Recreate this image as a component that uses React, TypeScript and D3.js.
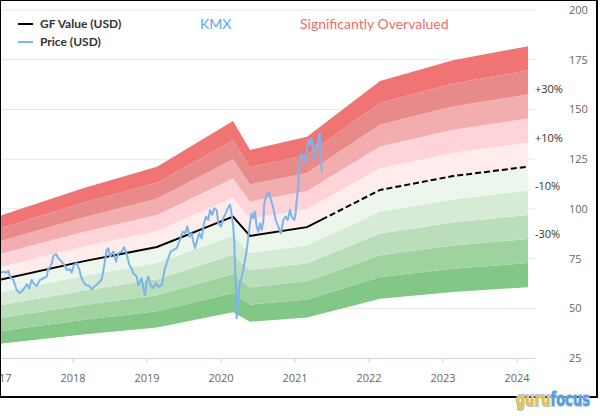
import React from "react";
import * as d3 from "d3";

const GF_DATES = [2016.98, 2018.135, 2019.135, 2020.162, 2020.392, 2021.162, 2022.149, 2023.135, 2024.149];
const GF_VALUES = [64.1, 73.6, 80.8, 96.1, 86.4, 90.8, 109.5, 116.5, 121.2];

const PRICE_DATES = [
  2017.0, 2017.058, 2017.104, 2017.126, 2017.149, 2017.193, 2017.239, 2017.274, 2017.307, 2017.351,
  2017.374, 2017.409, 2017.442, 2017.464, 2017.509, 2017.554, 2017.599, 2017.645, 2017.666, 2017.689,
  2017.712, 2017.734, 2017.77, 2017.801, 2017.847, 2017.892, 2017.915, 2017.959, 2017.982, 2018.014,
  2018.05, 2018.085, 2018.108, 2018.139, 2018.176, 2018.22, 2018.253, 2018.297, 2018.342, 2018.388,
  2018.419, 2018.455, 2018.477, 2018.5, 2018.545, 2018.581, 2018.612, 2018.658, 2018.689, 2018.716,
  2018.761, 2018.793, 2018.815, 2018.861, 2018.882, 2018.928, 2018.95, 2018.973, 2018.996, 2019.018,
  2019.05, 2019.085, 2019.122, 2019.153, 2019.199, 2019.22, 2019.243, 2019.288, 2019.32, 2019.355,
  2019.401, 2019.446, 2019.482, 2019.514, 2019.545, 2019.572, 2019.604, 2019.626, 2019.649, 2019.672,
  2019.707, 2019.739, 2019.77, 2019.797, 2019.828, 2019.851, 2019.882, 2019.909, 2019.942, 2019.964,
  2020.0, 2020.031, 2020.064, 2020.091, 2020.122, 2020.145, 2020.166, 2020.18, 2020.189, 2020.203,
  2020.212, 2020.226, 2020.247, 2020.28, 2020.301, 2020.324, 2020.347, 2020.369, 2020.392, 2020.415,
  2020.437, 2020.459, 2020.482, 2020.504, 2020.527, 2020.55, 2020.572, 2020.585, 2020.618, 2020.649,
  2020.676, 2020.707, 2020.739, 2020.774, 2020.811, 2020.842, 2020.874, 2020.901, 2020.932, 2020.955,
  2020.991, 2021.009, 2021.023, 2021.045, 2021.058, 2021.081, 2021.112, 2021.135, 2021.158, 2021.18,
  2021.203, 2021.226, 2021.247, 2021.27, 2021.284, 2021.307, 2021.324, 2021.338, 2021.351, 2021.361,
];
const PRICE_VALUES = [
  67.6, 68.4, 67.9, 68.9, 65.9, 64.3, 59.2, 57.6, 58.4, 60.6,
  62.2, 60.1, 64.3, 62.6, 61.2, 64.3, 65.1, 65.9, 70.1, 70.6,
  72.6, 76.3, 77.3, 75.2, 73.5, 71.3, 69.3, 69.6, 67.9, 71.8,
  72.6, 69.6, 65.9, 63.4, 61.7, 61.2, 59.6, 61.2, 62.6, 64.6,
  70.9, 79.3, 80.2, 76.0, 78.5, 73.5, 77.7, 78.5, 80.7, 78.5,
  71.8, 70.1, 67.6, 65.9, 61.7, 65.1, 60.1, 56.7, 63.4, 65.9,
  61.7, 60.1, 62.6, 60.9, 61.7, 65.9, 70.1, 75.2, 78.5, 79.3,
  80.2, 84.4, 88.5, 87.7, 91.1, 86.0, 87.7, 83.5, 80.2, 83.5,
  87.7, 85.2, 92.8, 96.1, 94.4, 99.4, 96.9, 100.3, 99.4, 92.8,
  91.1, 95.3, 97.8, 100.3, 102.0, 96.9, 91.1, 82.7, 72.6, 59.2,
  45.0, 52.5, 60.9, 65.9, 69.3, 74.3, 79.3, 86.0, 92.8, 97.8,
  95.3, 98.6, 91.1, 88.5, 92.8, 89.4, 93.6, 102.8, 107.0, 108.6,
  104.5, 100.3, 94.4, 91.1, 87.7, 94.4, 96.1, 94.4, 99.4, 96.1,
  94.4, 97.8, 104.5, 111.2, 122.9, 128.0, 126.2, 122.9, 128.8, 134.6,
  132.1, 135.5, 129.6, 124.6, 132.1, 131.3, 137.2, 138.0, 128.0, 118.7,
];

const Y_TICKS = [25, 50, 75, 100, 125, 150, 175, 200];
const X_TICKS = [2017, 2018, 2019, 2020, 2021, 2022, 2023, 2024];
const BAND_MULTS = [0.5, 0.6, 0.7, 0.8, 0.9, 1.0, 1.1, 1.2, 1.3, 1.4, 1.5];
const BAND_COLORS = [
  "#82c785", "#9ed29e", "#badeba", "#d6ebd6", "#edf6ed",
  "#ffeced", "#ffd4d8", "#f2aeae", "#e98a8a", "#f07474",
];
const BAND_LABELS = ["+30%", "+10%", "-10%", "-30%"];
const BAND_LABEL_MULTS = [1.3, 1.1, 0.9, 0.7];

const W = 600;
const H = 420;
const PLOT_RIGHT = 535;
const FONT = "Lato, 'Open Sans', sans-serif";

export default function App() {
  const x = d3.scaleLinear().domain([2017, 2024]).range([-1, 517]);
  const y = d3.scaleLinear().domain([25, 200]).range([358, 10]);
  const gfAt = d3.scaleLinear().domain(GF_DATES).range(GF_VALUES);

  const gf = GF_DATES.map((d, i) => ({ d, v: GF_VALUES[i] }));
  const price = PRICE_DATES.map((d, i) => ({ d, v: PRICE_VALUES[i] }));
  const lastDate = PRICE_DATES[PRICE_DATES.length - 1];
  const nowPt = { d: lastDate, v: gfAt(lastDate) };
  const gfSolid = [...gf.filter((p) => p.d < lastDate), nowPt];
  const gfDashed = [nowPt, ...gf.filter((p) => p.d > lastDate)];

  const line = d3
    .line<{ d: number; v: number }>()
    .x((p) => x(p.d))
    .y((p) => y(p.v));

  const bands = BAND_COLORS.map((c, i) => {
    const lo = BAND_MULTS[i];
    const hi = BAND_MULTS[i + 1];
    const area = d3
      .area<{ d: number; v: number }>()
      .x((p) => x(p.d))
      .y0((p) => y(p.v * lo))
      .y1((p) => y(p.v * hi));
    return <path key={i} d={area(gf) || ""} fill={c} stroke="none" />;
  });

  const lastGf = GF_VALUES[GF_VALUES.length - 1];

  return (
    <svg
      width={W}
      height={H}
      style={{ position: "absolute", left: 0, top: 0, background: "#fff" }}
    >
      <defs>
        <clipPath id="plotClip">
          <rect x={0} y={0} width={PLOT_RIGHT} height={358} />
        </clipPath>
      </defs>
      <rect x={0} y={0} width={W} height={H} fill="#fff" />
      {/* grid */}
      {Y_TICKS.filter((t) => t !== 25).map((t) => (
        <line key={t} x1={0} x2={PLOT_RIGHT} y1={y(t)} y2={y(t)} stroke="#e6e6e6" strokeWidth={1} />
      ))}
      <g clipPath="url(#plotClip)">
        {bands}
        <path d={line(gfSolid) || ""} fill="none" stroke="#000" strokeWidth={2} />
        <path d={line(gfDashed) || ""} fill="none" stroke="#000" strokeWidth={2} strokeDasharray="6,3" />
        <path
          d={line(price) || ""}
          fill="none"
          stroke="#7cb5ec"
          strokeWidth={2}
          strokeLinejoin="round"
          strokeLinecap="round"
        />
      </g>
      {/* x axis */}
      <line x1={0} x2={PLOT_RIGHT} y1={y(25) + 0.5} y2={y(25) + 0.5} stroke="#ccd6eb" strokeWidth={1} />
      {X_TICKS.map((t) => (
        <g key={t}>
          <line x1={x(t)} x2={x(t)} y1={y(25)} y2={y(25) + 5} stroke="#ccd6eb" strokeWidth={1} />
          <text
            x={x(t)}
            y={382}
            textAnchor="middle"
            fontFamily="'Open Sans', sans-serif"
            fontSize={11}
            fill="#666"
          >
            {t}
          </text>
        </g>
      ))}
      {/* y axis labels */}
      {Y_TICKS.map((t) => (
        <text
          key={t}
          x={569}
          y={y(t) + 4}
          fontFamily="'Open Sans', sans-serif"
          fontSize={11}
          fill="#666"
        >
          {t}
        </text>
      ))}
      {/* band labels */}
      {BAND_LABELS.map((l, i) => (
        <text
          key={l}
          x={535}
          y={y(lastGf * BAND_LABEL_MULTS[i]) - 1}
          fontFamily="'Open Sans', sans-serif"
          fontSize={11}
          fill="#333"
        >
          {l}
        </text>
      ))}
      {/* legend */}
      <line x1={18} x2={33} y1={24} y2={24} stroke="#000" strokeWidth={2} />
      <text x={40} y={28} fontFamily={FONT} fontWeight="bold" fontSize={12} fill="#333">
        GF Value (USD)
      </text>
      <line x1={18} x2={33} y1={42} y2={42} stroke="#7cb5ec" strokeWidth={2} />
      <text x={40} y={46} fontFamily={FONT} fontWeight="bold" fontSize={12} fill="#333">
        Price (USD)
      </text>
      <text x={200} y={29} fontFamily={FONT} fontSize={14} fill="#58a8f0">
        KMX
      </text>
      <text x={300} y={29} fontFamily={FONT} fontSize={14} fill="#f06b6b">
        Significantly Overvalued
      </text>
      {/* frame */}
      <rect x={0} y={0} width={597} height={397} fill="none" stroke="#000" strokeWidth={2} />
      {/* logo */}
      <text
        x={516}
        y={406}
        textLength={74}
        lengthAdjust="spacingAndGlyphs"
        fontFamily="'DejaVu Sans', sans-serif"
        fontWeight="bold"
        fontSize={20}
        strokeWidth={2}
        paintOrder="stroke"
      >
        <tspan fill="#f3c235" stroke="#a9c9ec">guru</tspan>
        <tspan fill="#5a9ad8" stroke="#b8d4f0">focus</tspan>
      </text>
    </svg>
  );
}
